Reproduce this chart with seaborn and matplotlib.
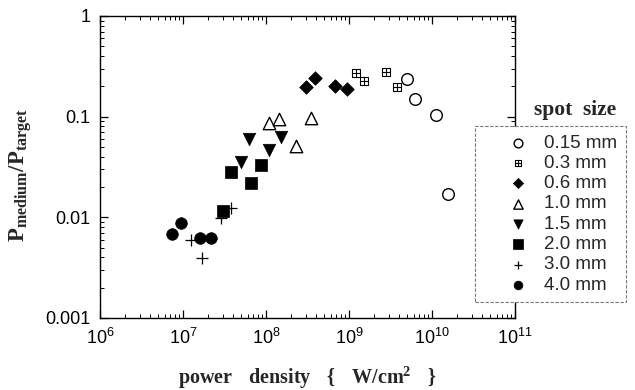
import matplotlib
matplotlib.use("Agg")
import matplotlib.pyplot as plt
import matplotlib.ticker as mticker
from matplotlib.path import Path
import seaborn as sns
import pandas as pd

# ---- data ----
spot_sizes = ["0.15 mm", "0.3 mm", "0.6 mm", "1.0 mm", "1.5 mm", "2.0 mm", "3.0 mm", "4.0 mm"]

x_015 = [5.0e9, 6.3e9, 1.13e10, 1.55e10]
y_015 = [0.236, 0.149, 0.104, 0.0169]
x_03 = [1.2e9, 1.5e9, 2.8e9, 3.8e9]
y_03 = [0.271, 0.225, 0.277, 0.197]
x_06 = [3.0e8, 3.9e8, 6.8e8, 9.5e8]
y_06 = [0.197, 0.241, 0.200, 0.190]
x_10 = [1.1e8, 1.45e8, 3.5e8, 2.3e8]
y_10 = [0.086, 0.094, 0.097, 0.051]
x_15 = [6.3e7, 5.0e7, 1.1e8, 1.5e8]
y_15 = [0.0597, 0.0352, 0.0464, 0.0625]
x_20 = [3.8e7, 6.6e7, 8.7e7, 3.0e7]
y_20 = [0.028, 0.0218, 0.0329, 0.0115]
x_30 = [1.25e7, 1.69e7, 2.9e7, 3.8e7]
y_30 = [0.0059, 0.0039, 0.0098, 0.0123]
x_40 = [7.4e6, 9.5e6, 1.6e7, 2.17e7]
y_40 = [0.0068, 0.0087, 0.0062, 0.0062]

xs = [x_015, x_03, x_06, x_10, x_15, x_20, x_30, x_40]
ys = [y_015, y_03, y_06, y_10, y_15, y_20, y_30, y_40]

x_ticks = [1e6, 1e7, 1e8, 1e9, 1e10, 1e11]
y_ticks = [0.001, 0.01, 0.1, 1]
y_tick_labels = ["0.001", "0.01", "0.1", "1"]

# ---- styles ----
sns.set_theme(style="ticks")
plt.rcParams["font.family"] = ["Liberation Sans", "DejaVu Sans"]
plt.rcParams["mathtext.fontset"] = "custom"
plt.rcParams["mathtext.rm"] = "Liberation Sans"
plt.rcParams["mathtext.bf"] = "Liberation Serif:bold"
plt.rcParams["mathtext.it"] = "Liberation Sans:italic"

# square with a cross inside (boxed plus)
boxplus = Path(
    [(-1, -1), (1, -1), (1, 1), (-1, 1), (-1, -1),
     (0, -1), (0, 1), (-1, 0), (1, 0)],
    [Path.MOVETO, Path.LINETO, Path.LINETO, Path.LINETO, Path.CLOSEPOLY,
     Path.MOVETO, Path.LINETO, Path.MOVETO, Path.LINETO],
)

marker_styles = {
    "0.15 mm": dict(marker="o", s=70, facecolor="white", edgecolor="black", linewidth=1.0),
    "0.3 mm": dict(marker=boxplus, s=30, facecolor="white", edgecolor="black", linewidth=0.8),
    "0.6 mm": dict(marker="D", s=48, color="black", edgecolor="black", linewidth=0.5),
    "1.0 mm": dict(marker="^", s=80, facecolor="white", edgecolor="black", linewidth=1.0),
    "1.5 mm": dict(marker="v", s=80, color="black", edgecolor="black", linewidth=0.5),
    "2.0 mm": dict(marker="s", s=75, color="black", edgecolor="black", linewidth=0.5),
    "3.0 mm": dict(marker="+", s=70, color="black", linewidth=0.9),
    "4.0 mm": dict(marker="o", s=70, color="black", edgecolor="black", linewidth=0.5),
}

fig = plt.figure(figsize=(6.35, 3.9), dpi=100)
ax = fig.add_axes([100 / 635, 1 - 318 / 390, (515 - 100) / 635, (318 - 16) / 390])

handles = []
for name, xv, yv in zip(spot_sizes, xs, ys):
    df = pd.DataFrame({"x": xv, "y": yv})
    st = marker_styles[name]
    sns.scatterplot(data=df, x="x", y="y", ax=ax, legend=False, **st)
    handles.append(ax.collections[-1])

ax.set_xscale("log")
ax.set_yscale("log")
ax.set_xlim(1e6, 1e11)
ax.set_ylim(1e-3, 1)

ax.set_xticks(x_ticks)
ax.xaxis.set_major_formatter(mticker.LogFormatterSciNotation())
ax.set_yticks(y_ticks)
ax.set_yticklabels(y_tick_labels)
ax.xaxis.set_minor_locator(mticker.LogLocator(base=10, subs=range(2, 10), numticks=20))
ax.yaxis.set_minor_locator(mticker.LogLocator(base=10, subs=range(2, 10), numticks=20))
ax.xaxis.set_minor_formatter(mticker.NullFormatter())
ax.yaxis.set_minor_formatter(mticker.NullFormatter())

ax.tick_params(which="both", direction="in", top=True, right=True, colors="black")
ax.tick_params(which="major", length=6, width=0.9, labelsize=13, pad=7)
ax.tick_params(which="minor", length=3, width=0.7)
for sp in ax.spines.values():
    sp.set_visible(True)
    sp.set_color("black")
    sp.set_linewidth(1.0)

ax.set_xlabel(r"$\mathbf{power\ \ \ density\ \ \ \{\ \ \ W/cm^2\ \ \ \}}$", fontsize=14.5, labelpad=12)
ax.set_ylabel(r"$\mathbf{P_{medium}/P_{target}}$", fontsize=16.5)
ax.yaxis.set_label_coords(-0.16, 0.475)

leg = ax.legend(handles, spot_sizes, loc="upper left",
                bbox_to_anchor=(475 / 635, 1 - 126 / 390), bbox_transform=fig.transFigure,
                frameon=True, fancybox=False, fontsize=13.5, labelspacing=0.17,
                handletextpad=-0.45, borderpad=0.45, handlelength=3.7, markerscale=0.75,
                borderaxespad=0)
frame = leg.get_frame()
frame.set_edgecolor("#777777")
frame.set_linestyle((0, (3, 1.5)))
frame.set_linewidth(0.8)
frame.set_facecolor("white")
frame.set_alpha(1)
leg.set_clip_on(False)

fig.text(575 / 635, 1 - 110 / 390, "spot  size", family="Liberation Serif", weight="bold",
         fontsize=15.5, ha="center", va="center")

fig.savefig("out.png", dpi=100, facecolor="white")
